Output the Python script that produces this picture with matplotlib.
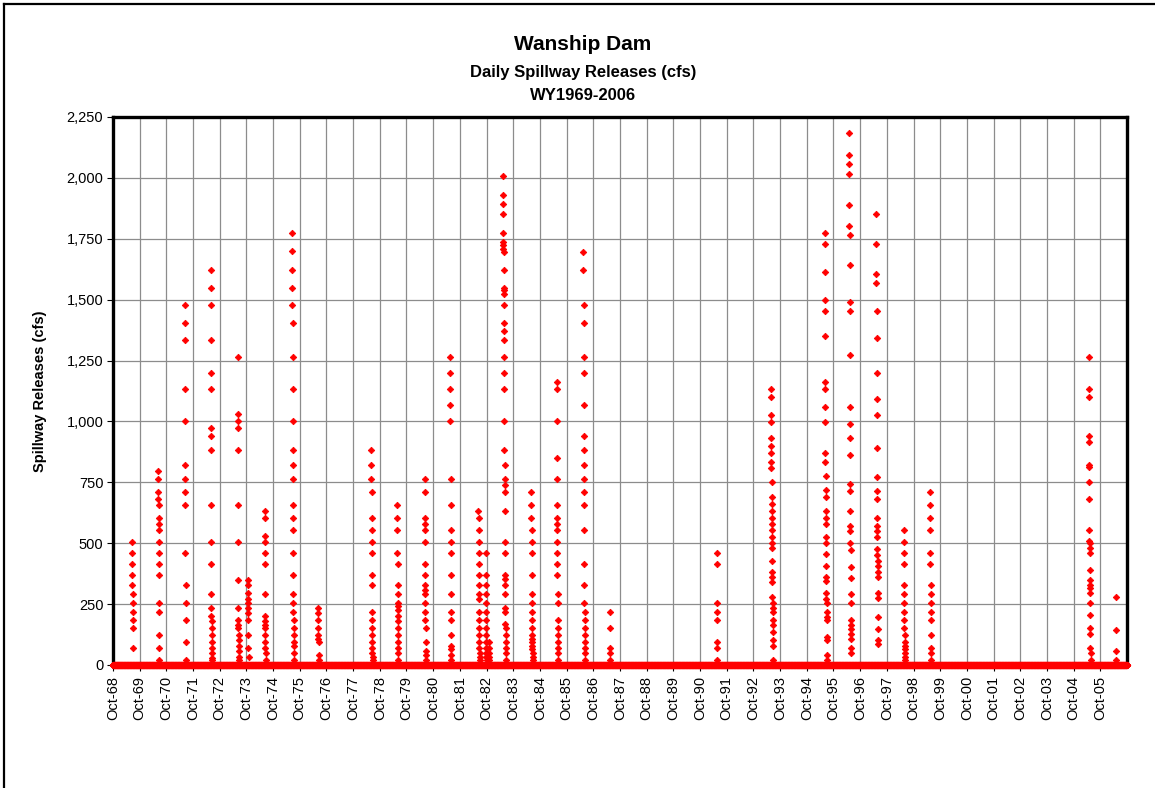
import matplotlib
matplotlib.use("Agg")
import matplotlib.pyplot as plt
import matplotlib.dates as mdates
from matplotlib.ticker import FuncFormatter
from matplotlib.lines import Line2D
import pandas as pd
import numpy as np

plt.rcParams['font.family'] = ['Liberation Sans', 'DejaVu Sans']

# ---------------- data ----------------
title_lines = ["Wanship Dam", "Daily Spillway Releases (cfs)", "WY1969-2006"]
y_label = "Spillway Releases (cfs)"
period_start = "1968-10-01"
period_end = "2006-09-30"
y_ticks = [0, 250, 500, 750, 1000, 1250, 1500, 1750, 2000, 2250]
x_tick_years = list(range(1968, 2006))  # Oct-68 ... Oct-05

# spill events: approximate centre date of each cluster of daily points
event_dates = ["1969-06-25", "1970-06-20", "1971-06-19", "1972-06-08", "1973-06-12",
               "1973-10-26", "1974-06-14", "1975-07-02", "1976-06-13", "1978-06-16",
               "1979-06-05", "1980-06-14", "1981-05-30", "1982-06-21", "1982-09-25",
               "1982-11-01", "1983-06-03", "1984-06-14", "1985-05-27", "1986-05-30",
               "1987-05-19", "1991-05-22", "1993-06-12", "1995-06-19", "1996-05-18",
               "1997-05-22", "1998-05-30", "1999-05-23", "2005-05-08", "2006-04-30"]

s1969 = [505, 458, 413, 371, 328, 290, 254, 218, 184, 152, 68]
s1970 = [795, 765, 712, 683, 657, 605, 579, 554, 507, 458, 413, 371, 254, 217, 122, 68, 19]
s1971 = [1477, 1404, 1334, 1132, 1003, 823, 765, 712, 657, 458, 328, 254, 184, 94, 19]
s1972 = [1622, 1549, 1477, 1334, 1197, 1132, 973, 942, 881, 657, 507, 413, 290, 233, 201,
         181, 152, 122, 94, 68, 49, 30, 19]
s1973 = [1266, 1032, 1003, 973, 881, 657, 507, 351, 233, 184, 165, 152, 122, 101, 79, 56, 34, 19]
s1973_fall = [351, 328, 294, 272, 254, 233, 212, 184, 122, 68, 34]
s1974 = [631, 603, 530, 507, 458, 413, 290, 201, 181, 165, 152, 122, 94, 68, 49, 19]
s1975 = [1775, 1698, 1622, 1549, 1477, 1404, 1266, 1132, 1003, 881, 823, 765, 657, 603, 554,
         458, 371, 290, 254, 217, 184, 152, 122, 94, 79, 49, 19]
s1976 = [235, 215, 183, 152, 122, 108, 94, 42, 19]
s1978 = [882, 823, 765, 710, 603, 554, 507, 458, 371, 330, 218, 183, 152, 122, 94, 68, 49, 34, 19]
s1979 = [657, 603, 554, 458, 413, 330, 290, 254, 242, 224, 201, 181, 152, 122, 94, 68, 49, 19]
s1980 = [765, 710, 603, 579, 554, 507, 413, 371, 330, 309, 290, 254, 217, 183, 152, 94, 56, 42, 19]
s1981 = [1266, 1197, 1132, 1067, 1003, 765, 657, 554, 507, 458, 371, 290, 217, 183, 122, 79, 64, 42, 19]
s1982 = [631, 603, 554, 507, 458, 413, 371, 330, 290, 272, 217, 183, 152, 122, 94, 68, 49, 34, 19]
s1982_fall = [458, 371, 330, 290, 254, 217, 183, 152, 122, 94, 68, 49, 34, 19]
s1982_late = [94, 68, 49, 34, 19]
s1983 = [2008, 1931, 1891, 1852, 1774, 1735, 1723, 1710, 1696, 1622, 1549, 1538, 1524, 1477,
         1405, 1370, 1336, 1266, 1197, 1132, 1003, 882, 823, 765, 737, 710, 631, 507, 458, 371,
         354, 330, 290, 233, 217, 168, 152, 122, 94, 68, 49, 19]
s1984 = [710, 657, 603, 554, 507, 458, 371, 290, 254, 217, 183, 152, 122, 108, 94, 79, 64, 49, 34, 19]
s1985 = [1163, 1132, 1003, 851, 765, 657, 603, 579, 554, 507, 458, 413, 371, 290, 254, 183, 152,
         122, 94, 68, 49, 19]
s1986 = [1696, 1622, 1477, 1404, 1266, 1197, 1067, 942, 882, 823, 765, 710, 657, 554, 413, 330,
         254, 217, 183, 152, 122, 94, 68, 49, 19]
s1987 = [217, 152, 68, 49, 19]
s1991 = [458, 413, 254, 217, 183, 94, 68, 19]
s1993 = [1132, 1099, 1028, 998, 930, 900, 869, 835, 807, 750, 688, 663, 631, 603, 579, 554, 524,
         499, 480, 428, 383, 361, 342, 278, 254, 235, 217, 183, 165, 135, 101, 76, 19]
s1995 = [1774, 1728, 1615, 1499, 1454, 1349, 1163, 1132, 1061, 997, 869, 835, 775, 718, 689, 631,
         603, 579, 524, 502, 455, 406, 361, 346, 297, 272, 254, 217, 198, 183, 116, 101, 42, 19]
s1996 = [2185, 2096, 2056, 2016, 1890, 1803, 1765, 1644, 1490, 1454, 1272, 1061, 989, 930, 862,
         743, 716, 631, 572, 551, 499, 472, 401, 358, 291, 254, 183, 165, 146, 126, 108, 71, 49]
s1997 = [1851, 1728, 1607, 1570, 1454, 1341, 1197, 1092, 1028, 893, 771, 716, 683, 603, 572, 551,
         527, 477, 450, 428, 406, 383, 361, 294, 275, 199, 147, 101, 86]
s1998 = [554, 507, 458, 413, 330, 290, 254, 217, 183, 152, 122, 94, 79, 64, 49, 34, 19]
s1999 = [710, 657, 603, 554, 458, 413, 330, 290, 254, 217, 183, 122, 68, 49, 19]
s2005 = [1266, 1132, 1099, 942, 917, 822, 813, 753, 683, 554, 510, 499, 480, 458, 392, 351, 330,
         316, 297, 253, 204, 153, 126, 68, 49, 19]
s2006 = [278, 144, 56, 19]

event_values = [s1969, s1970, s1971, s1972, s1973, s1973_fall, s1974, s1975, s1976, s1978,
                s1979, s1980, s1981, s1982, s1982_fall, s1982_late, s1983, s1984, s1985, s1986,
                s1987, s1991, s1993, s1995, s1996, s1997, s1998, s1999, s2005, s2006]

# ---------------- build daily series ----------------
days = pd.date_range(period_start, period_end, freq="D")
ev_x, ev_y = [], []
for d, vals in zip(event_dates, event_values):
    c = pd.Timestamp(d)
    n = len(vals)
    for i, v in enumerate(vals):
        ev_x.append(c + pd.Timedelta(days=int(i - n / 2)))
        ev_y.append(v)

# ---------------- figure ----------------
fig = plt.figure(figsize=(11.55, 7.88), dpi=100)
ax = fig.add_axes([113 / 1155, 1 - 665 / 788, (1127 - 113) / 1155, (665 - 117) / 788])

red = "#ff0000"
ax.plot(days, np.zeros(len(days)), linestyle="none", marker="D", ms=3.3,
        color=red, mec=red, mew=0.6, clip_on=False, zorder=4)
ax.plot(ev_x, ev_y, linestyle="none", marker="D", ms=3.3,
        color=red, mec=red, mew=0.6, clip_on=False, zorder=4)

ax.set_xlim(pd.Timestamp(period_start), pd.Timestamp(period_end) + pd.Timedelta(hours=12))
ax.set_ylim(0, 2250)
ax.set_yticks(y_ticks)
ax.yaxis.set_major_formatter(FuncFormatter(lambda v, p: f"{int(v):,}"))

ax.set_xticks([pd.Timestamp(f"{y}-10-01") for y in x_tick_years])
ax.xaxis.set_major_formatter(mdates.DateFormatter("%b-%y"))
plt.setp(ax.get_xticklabels(), rotation=90, ha="center", va="top")

ax.grid(True, which="major", color="#8c8c8c", linewidth=0.9)
ax.set_axisbelow(True)
ax.tick_params(axis="both", direction="out", length=4, width=0.8, color="black",
               labelsize=10.5, labelcolor="black")
ax.tick_params(axis="x", pad=4)
ax.tick_params(axis="y", pad=3)
for s in ax.spines.values():
    s.set_linewidth(2.4)
    s.set_color("black")

ax.set_ylabel(y_label, fontsize=10.5, fontweight="bold", labelpad=14)

# titles
cx = 583 / 1155
fig.text(cx, 1 - 45 / 788, title_lines[0], ha="center", va="center", fontsize=15, fontweight="bold")
fig.text(cx, 1 - 73 / 788, title_lines[1], ha="center", va="center", fontsize=12, fontweight="bold")
fig.text(cx, 1 - 96 / 788, title_lines[2], ha="center", va="center", fontsize=12, fontweight="bold")

# outer chart-area border (left and top visible)
fig.add_artist(Line2D([4 / 1155, 4 / 1155], [0, 1 - 4 / 788], transform=fig.transFigure,
                      color="black", linewidth=1.6))
fig.add_artist(Line2D([4 / 1155, 1], [1 - 4 / 788, 1 - 4 / 788], transform=fig.transFigure,
                      color="black", linewidth=1.6))

fig.savefig("out.png", dpi=100, facecolor="white")
